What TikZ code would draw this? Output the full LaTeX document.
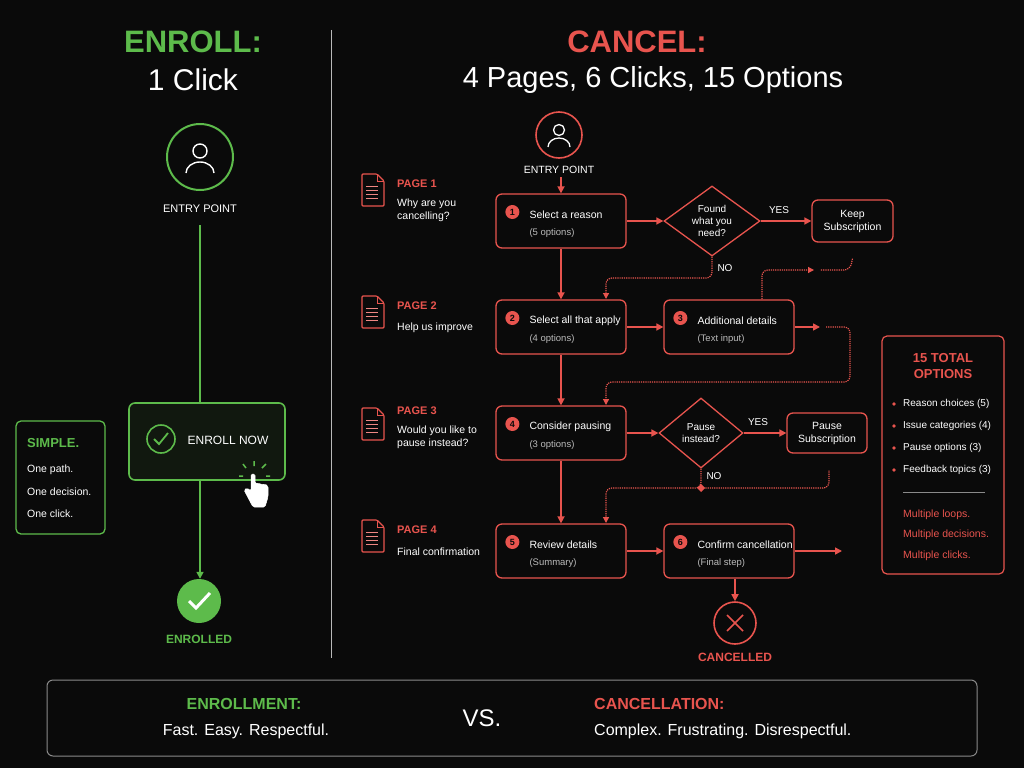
\documentclass[tikz,border=0pt]{standalone}
\usepackage{fontspec}
\setmainfont{Liberation Sans}
\usetikzlibrary{arrows.meta,shapes.geometric}
\definecolor{bg}{HTML}{0A0A0A}
\definecolor{gr}{HTML}{5DBB4B}
\definecolor{rd}{HTML}{E8544E}
\definecolor{gy}{HTML}{8A8A8A}
\definecolor{lg}{HTML}{BBBBBB}
\begin{document}
\begin{tikzpicture}[x=1pt,y=-1pt,
  txt/.style={text=white,font=\fontsize{11}{13}\selectfont,inner sep=0pt},
  rbox/.style={draw=rd,line width=1.3pt,rounded corners=6pt,fill=bg},
  rarr/.style={draw=rd,line width=1.6pt,-{Triangle[length=7pt,width=7pt]}},
  darr/.style={draw=rd,line width=1.2pt,densely dotted,rounded corners=6pt},
  dtip/.style={-{Triangle[length=6pt,width=6pt]}},
  ttl/.style={font=\fontsize{10.5}{13}\selectfont,text=white,anchor=west,inner sep=0pt},
  sub/.style={font=\fontsize{9.5}{11}\selectfont,text=lg,anchor=west,inner sep=0pt},
  badge/.style={circle,fill=rd,inner sep=0pt,minimum size=14pt,text=bg,font=\bfseries\fontsize{9}{9}\selectfont},
  plab/.style={font=\bfseries\fontsize{11}{13}\selectfont,text=rd,anchor=west,inner sep=0pt},
  ptxt/.style={font=\fontsize{10.5}{13}\selectfont,text=white,anchor=west,inner sep=0pt,align=left},
  bul/.style={font=\fontsize{10}{12}\selectfont,text=white,anchor=west,inner sep=0pt},
  rt/.style={font=\fontsize{10.5}{12}\selectfont,text=rd,anchor=west,inner sep=0pt}]
\fill[bg] (0,0) rectangle (1024,768);
\useasboundingbox (0,0) rectangle (1024,768);
\draw[gy!60,line width=0.8pt] (331,30) -- (331,658);
% ---------- left
\node[text=gr,font=\bfseries\fontsize{31}{34}\selectfont] (et) at (193,42) {ENROLL:};
\node[text=white,font=\fontsize{30}{34}\selectfont] (ec) at (193,80) {1 Click};
\node[circle,draw=gr,line width=2pt,minimum size=66pt] (ecirc) at (200,157) {};
\draw[white,line width=1.4pt] (200,151) circle (7);
\draw[white,line width=1.4pt] (186,173) arc (180:360:14 and 11);
\node[txt,font=\fontsize{11}{13}\selectfont] (eep) at (200,209) {ENTRY POINT};
\node[rbox,draw=gr,line width=1.6pt,fill=gr!8!bg,minimum width=156pt,minimum height=77pt] (enb) at (207,441.5) {};
\node[circle,draw=gr,line width=1.6pt,minimum size=28pt] (chk) at (161,439) {};
\draw[gr,line width=1.8pt] (154,439) -- (159,444) -- (168,433);
\node[txt,font=\fontsize{12}{14}\selectfont] (ent) at (228,440) {ENROLL NOW};
\coordinate (eline) at (200,225);
\draw[gr,line width=1.8pt] (eline) -- (eline |- enb.north);
% hand
\draw[gr,line width=1.5pt] (246,468)--(243,464) (254,466)--(254,461) (262,468)--(266,464) (243,476)--(239,476) (266,476)--(270,476);
\draw[white,fill=white,line width=0.5pt,rounded corners=1.5pt] (251,474) -- (251,491) -- (247,488) -- (244,490) -- (253,507) -- (265,507) -- (268,497) -- (268,486) -- (265,484) -- (262,485) -- (259,483) -- (256,484) -- (255,483) -- (255,474) -- cycle;
\node[circle,fill=gr,minimum size=44pt] (done) at (199,601) {};
\draw[rarr,draw=gr] (eline |- enb.south) -- (eline |- done.north);
\draw[white,line width=3pt] (189,601) -- (196,608) -- (210,593);
\node[text=gr,font=\bfseries\fontsize{12}{14}\selectfont] (edl) at (199,639) {ENROLLED};
\node[draw=gr,line width=1.3pt,rounded corners=5pt,minimum width=89pt,minimum height=113pt] (simp) at (60.5,477.5) {};
\node[text=gr,font=\bfseries\fontsize{13}{15}\selectfont,anchor=west,inner sep=0pt] (st) at (27,443) {SIMPLE.};
\node[ptxt] (s1) at (27,470) {One path.};
\node[ptxt] (s2) at (27,492) {One decision.};
\node[ptxt] (s3) at (27,514) {One click.};
% ---------- right
\node[text=rd,font=\bfseries\fontsize{31}{34}\selectfont] (ct) at (637,42) {CANCEL:};
\node[text=white,font=\fontsize{29}{34}\selectfont] (cs) at (653,80) {4 Pages, 6 Clicks, 15 Options};
\node[circle,draw=rd,line width=1.6pt,minimum size=46pt] (rc) at (559,135) {};
\draw[white,line width=1.3pt] (559,130) circle (5.5);
\draw[white,line width=1.3pt] (548,147) arc (180:360:11 and 9);
\node[txt,font=\fontsize{10.5}{12}\selectfont] (rep) at (559,170) {ENTRY POINT};
% page icons
\foreach \y/\n in {190/1,312/2,424/3,536/4}{
  \draw[rd,line width=1.1pt,rounded corners=1pt] (362,\y-16) -- (377,\y-16) -- (384,\y-9) -- (384,\y+16) -- (362,\y+16) -- cycle;
  \draw[rd,line width=1pt] (377,\y-16) -- (377,\y-9) -- (384,\y-9);
  \foreach \k in {-4,0,4,8}{\draw[rd!70,line width=0.6pt] (366,\y+\k) -- (378,\y+\k);}
}
\node[plab] (p1) at (397,184) {PAGE 1};
\node[ptxt,anchor=north west] (p1t) at (397,199) {Why are you\\cancelling?};
\node[plab] (p2) at (397,306) {PAGE 2};
\node[ptxt] (p2t) at (397,328) {Help us improve};
\node[plab] (p3) at (397,411) {PAGE 3};
\node[ptxt,anchor=north west] (p3t) at (397,426) {Would you like to\\pause instead?};
\node[plab] (p4) at (397,530) {PAGE 4};
\node[ptxt] (p4t) at (397,552) {Final confirmation};
% boxes
\node[rbox,minimum width=130pt,minimum height=54pt] (b1) at (561,221) {};
\node[rbox,minimum width=130pt,minimum height=54pt] (b2) at (561,327) {};
\node[rbox,minimum width=130pt,minimum height=54pt] (b3) at (729,327) {};
\node[rbox,minimum width=130pt,minimum height=54pt] (b4) at (561,433) {};
\node[rbox,minimum width=130pt,minimum height=54pt] (b5) at (561,551) {};
\node[rbox,minimum width=130pt,minimum height=54pt] (b6) at (729,551) {};
\foreach \b/\n/\t/\s in {b1/1/Select a reason/(5 options),b2/2/Select all that apply/(4 options),b3/3/Additional details/(Text input),b4/4/Consider pausing/(3 options),b5/5/Review details/(Summary),b6/6/Confirm cancellation/(Final step)}{
  \node[badge] (n\b) at ([xshift=17pt,yshift=9pt]\b.west) {\n};
  \node[ttl] (t\b) at ([xshift=34pt,yshift=6pt]\b.west) {\t};
  \node[sub] (s\b) at ([xshift=34pt,yshift=-12pt]\b.west) {\s};
}
\node[diamond,draw=rd,line width=1.3pt,aspect=1.37,minimum width=96pt,inner sep=0pt,minimum height=70pt,fill=bg] (d1) at (712,221) {};
\node[txt,align=center,font=\fontsize{10}{12}\selectfont] (d1t) at (712,221) {Found\\what you\\need?};
\node[diamond,draw=rd,line width=1.3pt,aspect=1.2,minimum width=84pt,inner sep=0pt,minimum height=70pt,fill=bg] (d2) at (701,433) {};
\node[txt,align=center,font=\fontsize{10}{12}\selectfont] (d2t) at (701,433) {Pause\\instead?};
\node[rbox,minimum width=81pt,minimum height=42pt] (keep) at (852.5,221) {};
\node[txt,align=center,font=\fontsize{10.5}{13}\selectfont] (kt) at (852.5,221) {Keep\\Subscription};
\node[rbox,minimum width=80pt,minimum height=40pt] (pause) at (827,433) {};
\node[txt,align=center,font=\fontsize{10.5}{13}\selectfont] (pt) at (827,433) {Pause\\Subscription};
\node[txt,font=\fontsize{10}{12}\selectfont] (y1) at (779,210) {YES};
\node[txt,font=\fontsize{10}{12}\selectfont] (no1) at (725,268) {NO};
\node[txt,font=\fontsize{10}{12}\selectfont] (y2) at (758,422) {YES};
\node[txt,font=\fontsize{10}{12}\selectfont] (no2) at (714,476) {NO};
\node[circle,draw=rd,line width=1.6pt,minimum size=42pt] (xc) at (735,623) {};
\draw[rd,line width=1.5pt] (727,615) -- (743,631) (743,615) -- (727,631);
\node[text=rd,font=\bfseries\fontsize{12}{14}\selectfont] (cl) at (735,657) {CANCELLED};
% solid arrows
\coordinate (ept) at ([yshift=16pt]b1.north);
\draw[rarr] (ept) -- (b1.north);
\draw[rarr] (b1.south) -- (b2.north);
\draw[rarr] (b2.south) -- (b4.north);
\draw[rarr] (b4.south) -- (b5.north);
\draw[rarr] (b1.east) -- (d1.west);
\draw[rarr] (d1.east) -- (keep.west);
\draw[rarr] (b2.east) -- (b3.west);
\draw[rarr] (b4.east) -- (d2.west);
\draw[rarr] (d2.east) -- (pause.west);
\draw[rarr] (b5.east) -- (b6.west);
\coordinate (out6) at (842,551);
\draw[rarr] (b6.east) -- (out6);
\draw[rarr] (b6.south -| xc) -- (xc.north);
\coordinate (b3o) at (820,327);
\draw[rarr] (b3.east) -- (b3o);
% dotted
\draw[darr,dtip] (d1.south) -- (712,278) -- (606,278) -- (606,299);
\draw[darr] (keep.south) ++(0,16) -- (850,270) -- (820,270);
\coordinate (kk) at (814,270);
\draw[darr,dtip] (762,299) -- (762,270) -- (kk);
\draw[darr,dtip] (826,327) -- (850,327) -- (850,382) -- (606,382) -- (606,405);
\draw[darr,dtip] (d2.south) -- (701,488) -- (606,488) -- (606,523);
\draw[darr] (701,488) -- (829,488) -- (829,470);
\fill[rd] (701,484) -- (705,488) -- (701,492) -- (697,488) -- cycle;
% sidebar
\node[draw=rd,line width=1.2pt,rounded corners=5pt,minimum width=122pt,minimum height=238pt] (side) at (943,455) {};
\node[text=rd,font=\bfseries\fontsize{13}{16}\selectfont,align=center] (st2) at (943,366) {15 TOTAL\\OPTIONS};
\foreach \y/\t in {404/Reason choices (5),426/Issue categories (4),448/Pause options (3),470/Feedback topics (3)}{
  \fill[rd] (894,\y) circle (1.8);
  \node[bul] at (903,\y) {\t};
}
\draw[gy,line width=0.8pt] (903,492) -- (985,492);
\node[rt] (m1) at (903,515) {Multiple loops.};
\node[rt] (m2) at (903,535) {Multiple decisions.};
\node[rt] (m3) at (903,556) {Multiple clicks.};
% bottom
\node[draw=gy,line width=1pt,rounded corners=6pt,minimum width=930pt,minimum height=76pt] (bot) at (512,718) {};
\node[text=gr,font=\bfseries\fontsize{16}{18}\selectfont] (be) at (244,704) {ENROLLMENT:};
\node[text=white,font=\fontsize{16}{18}\selectfont] (be2) at (246,731) {Fast. Easy. Respectful.};
\node[text=white,font=\fontsize{24}{26}\selectfont] (vs) at (482,718) {VS.};
\node[text=rd,font=\bfseries\fontsize{16}{18}\selectfont,anchor=west,inner sep=0pt] (bc) at (594,704) {CANCELLATION:};
\node[text=white,font=\fontsize{16}{18}\selectfont,anchor=west,inner sep=0pt] (bc2) at (594,731) {Complex. Frustrating. Disrespectful.};
\end{tikzpicture}
\end{document}
